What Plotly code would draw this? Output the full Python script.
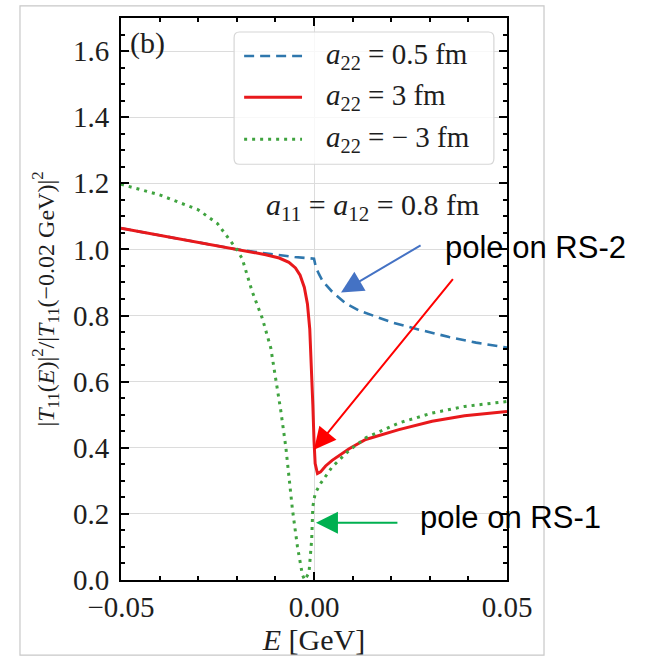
import plotly.graph_objects as go

# ---------------- data ----------------
E_red = [-0.05, -0.04, -0.03, -0.02, -0.0125, -0.009, -0.0065, -0.0048, -0.0036, -0.0025,
         -0.0017, -0.0011, -0.0007, -0.0003, 0.0, 0.0003, 0.0009, 0.0017, 0.003, 0.0047,
         0.0091, 0.0134, 0.022, 0.0306, 0.039, 0.05]
T_red = [1.064, 1.043, 1.022, 1.0, 0.984, 0.974, 0.961, 0.944, 0.922, 0.885,
         0.835, 0.76, 0.66, 0.53, 0.422, 0.352, 0.322, 0.327, 0.345, 0.362,
         0.397, 0.425, 0.455, 0.48, 0.497, 0.51]

E_blue = [-0.05, -0.04, -0.03, -0.02, -0.015, -0.01, -0.005, 0.0, 0.0005, 0.0013,
          0.0022, 0.0047, 0.0082, 0.0117, 0.02, 0.027, 0.035, 0.042, 0.05]
T_blue = [1.064, 1.043, 1.022, 1.0, 0.992, 0.984, 0.977, 0.972, 0.945, 0.925,
          0.905, 0.872, 0.837, 0.815, 0.78, 0.758, 0.735, 0.718, 0.703]

E_green = [-0.05, -0.04, -0.03, -0.025, -0.02, -0.0186, -0.016, -0.0134, -0.0112, -0.0099,
           -0.0086, -0.0073, -0.0065, -0.0056, -0.0043, -0.003, -0.0024, -0.0013, -0.0006,
           -0.0003, 0.0003, 0.0017, 0.0047, 0.0091, 0.0134, 0.022, 0.0306, 0.039, 0.05]
T_green = [1.197, 1.165, 1.12, 1.078, 1.0, 0.972, 0.872, 0.792, 0.702, 0.612,
           0.512, 0.402, 0.31, 0.215, 0.102, 0.015, 0.0, 0.022, 0.122,
           0.222, 0.262, 0.292, 0.342, 0.392, 0.43, 0.475, 0.505, 0.525, 0.54]

labels = ["<i>a</i><sub>22</sub> = 0.5 fm", "<i>a</i><sub>22</sub> = 3 fm",
          "<i>a</i><sub>22</sub> = − 3 fm"]

x_range = [-0.05, 0.05]
y_range = [0.0, 1.70]

SERIF = "Liberation Serif"
BLUE = "#2f77ad"
RED = "#e8191c"
GREEN = "#3fa33f"
TXT = "#1e1e1e"

series = [
    (E_blue, T_blue, labels[0], dict(color=BLUE, width=2.6, dash="10px,6px")),
    (E_red, T_red, labels[1], dict(color=RED, width=3)),
    (E_green, T_green, labels[2], dict(color=GREEN, width=3, dash="3px,5px")),
]

fig = go.Figure()
for ex, ty, name, ln in series:
    fig.add_trace(go.Scatter(x=ex, y=ty, mode="lines", name=name, line=ln, showlegend=False))

axis_common = dict(
    showline=True, linecolor="black", linewidth=2, mirror="allticks",
    ticks="inside", tickcolor="black", tickwidth=1.5, ticklen=8,
    showgrid=True, gridcolor="#dcdcdc", gridwidth=1.2, zeroline=False,
    tickfont=dict(family=SERIF, size=29, color=TXT),
)
fig.update_xaxes(range=x_range, dtick=0.05, tick0=-0.05, tickformat=".2f",
                 minor=dict(dtick=0.01, ticks="inside", ticklen=4, tickcolor="black",
                            showgrid=False),
                 title=dict(text="<i>E</i> [GeV]", font=dict(family=SERIF, size=30, color=TXT),
                            standoff=2),
                 **axis_common)
fig.update_yaxes(range=y_range, dtick=0.2, tickformat=".1f", ticklabelstandoff=4,
                 minor=dict(dtick=0.05, ticks="inside", ticklen=4, tickcolor="black",
                            showgrid=False),
                 title=dict(text="|<i>T</i><sub>11</sub>(<i>E</i>)|<sup>2</sup>/|<i>T</i><sub>11</sub>(−0.02 GeV)|<sup>2</sup>",
                            font=dict(family=SERIF, size=24, color=TXT), standoff=12),
                 **axis_common)

# ---------------- legend (drawn in the axes, matplotlib-style) ----------------
# box in data units: x from -0.0207 to 0.0466, y from 1.2576 to 1.6576, rounded corners
bx0, bx1, by0, by1 = -0.0207, 0.0466, 1.2576, 1.6576
rx, ry = 0.0014, 0.017
path = (f"M{bx0+rx},{by0} L{bx1-rx},{by0} Q{bx1},{by0} {bx1},{by0+ry} "
        f"L{bx1},{by1-ry} Q{bx1},{by1} {bx1-rx},{by1} L{bx0+rx},{by1} "
        f"Q{bx0},{by1} {bx0},{by1-ry} L{bx0},{by0+ry} Q{bx0},{by0} {bx0+rx},{by0} Z")
fig.add_shape(type="path", path=path, xref="x", yref="y", layer="above",
              fillcolor="rgba(255,255,255,0.8)", line=dict(color="#d6d6d6", width=1.2))
row_y = [1.585, 1.4606, 1.3333]
for (ex, ty, name, ln), yy in zip(series, row_y):
    fig.add_shape(type="line", xref="x", yref="y", x0=-0.0181, x1=-0.0031, y0=yy, y1=yy,
                  layer="above", line=ln)
    fig.add_annotation(text=name, xref="x", yref="y", x=0.0026, y=yy, xanchor="left",
                       yanchor="middle", showarrow=False,
                       font=dict(family=SERIF, size=29, color=TXT))

# annotations
fig.add_annotation(text="(b)", xref="paper", yref="paper", x=0.018, y=0.955,
                   xanchor="left", yanchor="middle", showarrow=False,
                   font=dict(family=SERIF, size=30, color=TXT))
fig.add_annotation(text="<i>a</i><sub>11</sub> = <i>a</i><sub>12</sub> = 0.8 fm",
                   xref="paper", yref="paper", x=0.932, y=0.664,
                   xanchor="right", yanchor="middle", showarrow=False,
                   font=dict(family=SERIF, size=30, color=TXT))

# arrows (head -> tail in data coordinates)
arrows = [
    dict(x=0.0070, y=0.870, ax=0.028, ay=1.015, color="#4472c4"),
    dict(x=0.0, y=0.394, ax=0.0363, ay=0.915, color="#ff0000"),
    dict(x=0.0005, y=0.173, ax=0.022, ay=0.173, color="#00b050"),
]
for a in arrows:
    fig.add_annotation(x=a["x"], y=a["y"], ax=a["ax"], ay=a["ay"], xref="x", yref="y",
                       axref="x", ayref="y", text="", showarrow=True, arrowhead=2,
                       arrowsize=2.2, arrowwidth=2, arrowcolor=a["color"])

fig.add_annotation(text="pole on RS-2", xref="paper", yref="paper", x=1.075, y=0.5925,
                   xanchor="center", yanchor="middle", showarrow=False,
                   font=dict(family="Liberation Sans", size=31, color="black"))
fig.add_annotation(text="pole on RS-1", xref="paper", yref="paper", x=1.008, y=0.112,
                   xanchor="center", yanchor="middle", showarrow=False,
                   font=dict(family="Liberation Sans", size=31, color="black"))

# outer light frame
fig.add_shape(type="rect", xref="paper", yref="paper", x0=-0.2617, x1=1.0959,
              y0=-0.1335, y1=1.0214, line=dict(color="#c8c8c8", width=1.2), layer="below")

fig.update_layout(
    width=654, height=657,
    margin=dict(l=121, r=147, t=18, b=77),
    paper_bgcolor="white", plot_bgcolor="white",
    showlegend=False,
)

fig.write_html("out.html")
